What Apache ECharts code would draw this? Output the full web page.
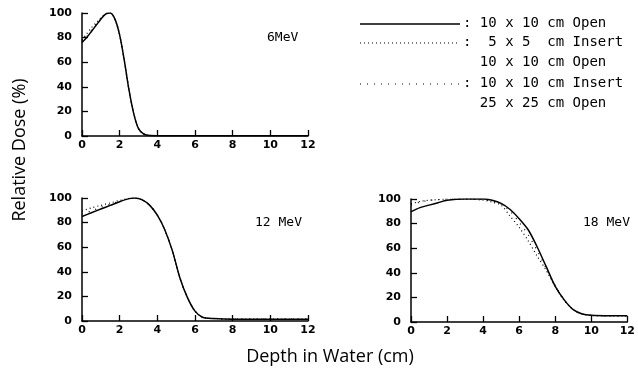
<!DOCTYPE html>
<html>
<head>
<meta charset="utf-8">
<script src="https://cdn.jsdelivr.net/npm/echarts@6/dist/echarts.min.js"></script>
<style>
  html, body { margin: 0; padding: 0; background: #fff; }
  #chart { width: 638px; height: 380px; }
</style>
</head>
<body>
<div id="chart"></div>
<script>
// depth (cm) and relative dose (%)
const depth6 = [0, 0.25, 0.5, 0.75, 1, 1.25, 1.5, 1.75, 2, 2.25, 2.5, 2.75, 3, 3.25, 3.5, 4, 6, 8, 10, 12];
const open6 = [76, 80, 85, 90, 95, 99, 100, 95, 82, 61, 37, 18, 6, 2, 0.6, 0.3, 0.3, 0.3, 0.3, 0.3];
const insert5x5_6 = [78, 83, 88, 92, 96, 99.5, 100, 95, 82, 61, 37, 18, 6, 2, 0.6, 0.3, 0.3, 0.3, 0.3, 0.3];
const insert10x10_6 = [77, 81, 86, 91, 95.5, 99, 100, 95, 82, 61, 37, 18, 6, 2, 0.6, 0.3, 0.3, 0.3, 0.3, 0.3];

const depth12 = [0, 0.5, 1, 1.5, 2, 2.5, 2.8, 3.2, 3.6, 4, 4.4, 4.8, 5.2, 5.6, 6, 6.4, 7, 8, 10, 12];
const open12 = [85, 88, 91, 94, 97, 99.5, 100, 98.5, 94, 86, 74, 57, 35, 19, 8, 3, 2, 1.5, 1.5, 1.5];
const insert5x5_12 = [89.5, 92, 94, 96, 98, 99.7, 100, 98.5, 94, 86, 74, 57, 35, 19, 8, 3, 2, 1.5, 1.5, 1.5];
const insert10x10_12 = [87, 89.5, 92.5, 95, 97.5, 99.6, 100, 98.5, 94, 86, 74, 57, 35, 19, 8, 3, 2, 1.5, 1.5, 1.5];

const depth18 = [0, 0.5, 1, 1.5, 2, 3, 4, 4.5, 5, 5.5, 6, 6.5, 7, 7.5, 8, 8.5, 9, 9.5, 10, 11, 12];
const open18 = [89.7, 93, 95, 97, 99, 100, 100, 99, 96.5, 91.5, 84, 75, 61, 45, 29, 18, 10, 6.5, 5.4, 5, 5];
const insert5x5_18 = [96, 98, 99, 99.5, 100, 100, 99, 97.5, 95, 86, 77, 66, 53.5, 42, 29, 17.5, 10, 6.5, 5.3, 5, 5];
const insert10x10_18 = [95, 97.5, 98.8, 99.5, 100, 100, 99.5, 98, 96, 90, 81, 71, 58, 43.5, 29.5, 18, 10, 6.5, 5.4, 5, 5];

const energyLabels = ['6MeV', '12 MeV', '18 MeV'];
const legendLines = [
  [': 10 x 10 cm Open'],
  [':  5 x 5  cm Insert', '  10 x 10 cm Open'],
  [': 10 x 10 cm Insert', '  25 x 25 cm Open']
];
const xTicks = { min: 0, max: 12, interval: 2 };
const yTicks = { min: 0, max: 100, interval: 20 };

const pairs = (xs, ys) => xs.map((x, i) => [x, ys[i]]);

const solid = { color: '#000', width: 1.5, type: 'solid' };
const dense = { color: '#000', width: 1.2, type: [1, 3] };
const sparse = { color: '#000', width: 1.2, type: [1, 6] };

const grids = [
  { left: 82, top: 13, width: 226, height: 123 },
  { left: 82, top: 198, width: 226, height: 123 },
  { left: 411, top: 199, width: 226, height: 123 }
];

const tickFont = { color: '#000', fontFamily: 'DejaVu Sans', fontSize: 11, fontWeight: 'bold' };
const monoFont = 'DejaVu Sans Mono';

const xAxes = grids.map((g, i) => ({
  type: 'value', gridIndex: i,
  min: xTicks.min, max: xTicks.max, interval: xTicks.interval,
  axisLine: { lineStyle: { color: '#000', width: 1.5 } },
  axisTick: { inside: true, length: 6, lineStyle: { color: '#000', width: 1.3 } },
  axisLabel: { ...tickFont, margin: 4 },
  splitLine: { show: false }
}));

const yAxes = grids.map((g, i) => ({
  type: 'value', gridIndex: i,
  min: yTicks.min, max: yTicks.max, interval: yTicks.interval,
  axisLine: { show: true, lineStyle: { color: '#000', width: 1.5 } },
  axisTick: { show: true, inside: true, length: 6, lineStyle: { color: '#000', width: 1.3 } },
  axisLabel: { ...tickFont, margin: 10 },
  splitLine: { show: false }
}));

const panels = [
  [depth6, open6, insert5x5_6, insert10x10_6],
  [depth12, open12, insert5x5_12, insert10x10_12],
  [depth18, open18, insert5x5_18, insert10x10_18]
];

const series = [];
panels.forEach((p, i) => {
  [[p[1], solid], [p[2], dense], [p[3], sparse]].forEach(([ys, style]) => {
    series.push({
      type: 'line', xAxisIndex: i, yAxisIndex: i,
      data: pairs(p[0], ys), smooth: 0.3,
      showSymbol: false, symbol: 'none', silent: true,
      lineStyle: style
    });
  });
});

// legend samples and labels
const graphic = [];
const legendY = [24, 43, 84];
const legendStyles = [solid, dense, sparse];
legendLines.forEach((lines, i) => {
  const s = legendStyles[i];
  graphic.push({
    type: 'line', shape: { x1: 360, y1: legendY[i], x2: 460, y2: legendY[i] },
    style: { stroke: '#000', lineWidth: s.width, lineDash: Array.isArray(s.type) ? s.type : null }
  });
  lines.forEach((t, j) => {
    graphic.push({
      type: 'text', left: 463, top: legendY[i] - 8 + j * 20,
      style: { text: t, font: '14px "' + monoFont + '"', fill: '#000' }
    });
  });
});

const labelPos = [[267, 31], [255, 216], [583, 216]];
energyLabels.forEach((t, i) => {
  graphic.push({
    type: 'text', left: labelPos[i][0], top: labelPos[i][1],
    style: { text: t, font: '13px "' + monoFont + '"', fill: '#000' }
  });
});

graphic.push({
  type: 'text', x: 20, y: 150, rotation: Math.PI / 2,
  style: { text: 'Relative Dose (%)', font: '18px "Open Sans"', fill: '#000', align: 'center', verticalAlign: 'middle' }
});
graphic.push({
  type: 'text', x: 330, y: 357,
  style: { text: 'Depth in Water (cm)', font: '18px "Open Sans"', fill: '#000', align: 'center', verticalAlign: 'middle' }
});

const chart = echarts.init(document.getElementById('chart'));
chart.setOption({
  animation: false,
  backgroundColor: '#fff',
  grid: grids,
  xAxis: xAxes,
  yAxis: yAxes,
  series: series,
  graphic: graphic
});
</script>
</body>
</html>
